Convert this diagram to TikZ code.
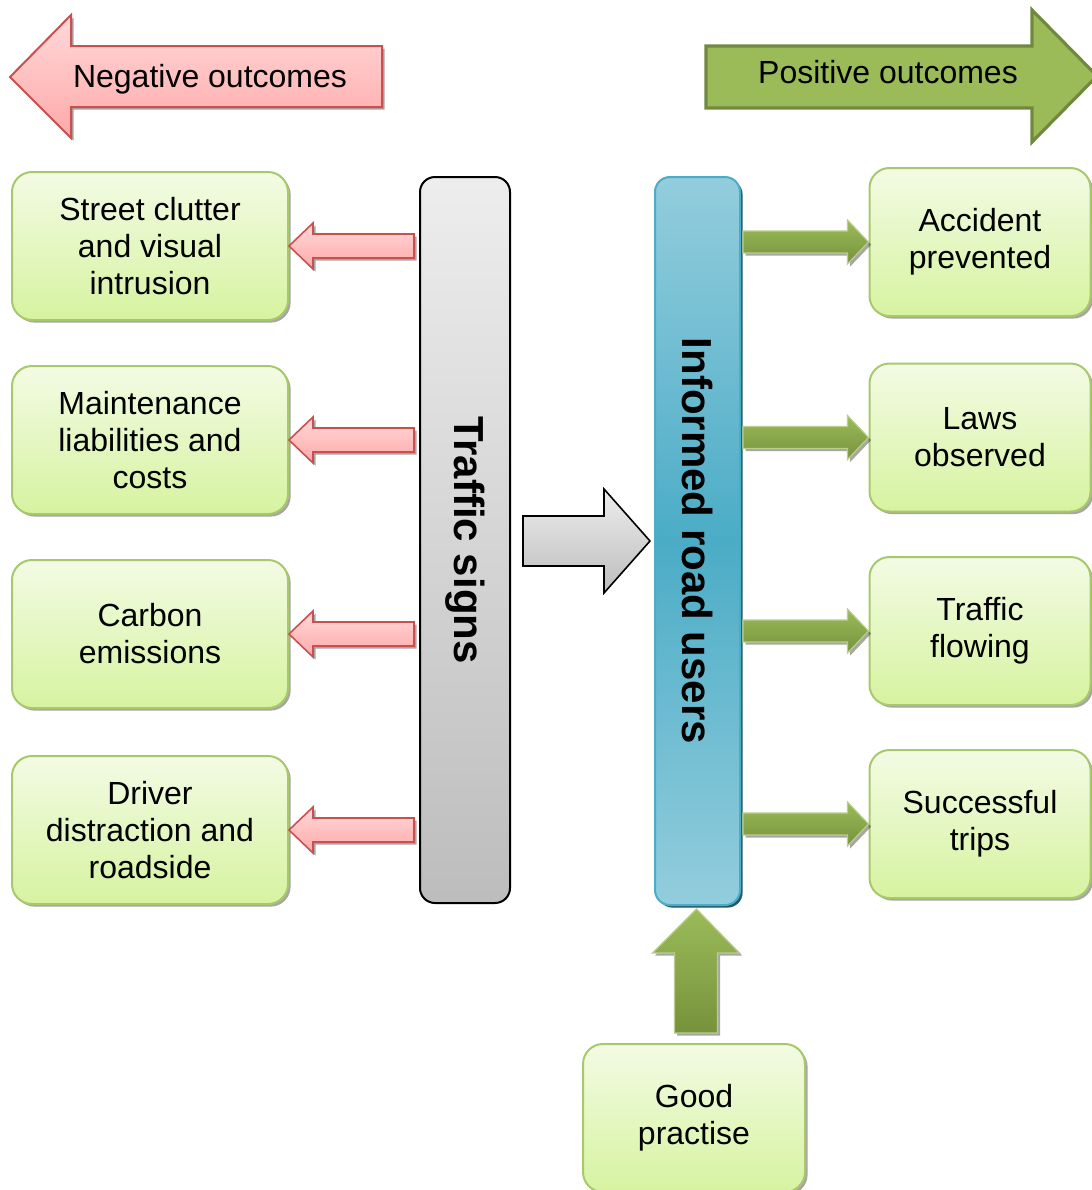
\documentclass[tikz,border=0pt]{standalone}
\usepackage{fontspec}
\setmainfont{Liberation Sans}
\usetikzlibrary{calc,shadows}

\definecolor{boxtop}{HTML}{F3FBE4}
\definecolor{boxbot}{HTML}{D6F3A0}
\definecolor{boxline}{HTML}{A8C96B}
\definecolor{negtop}{HTML}{FFD9D9}
\definecolor{negbot}{HTML}{FFA8A8}
\definecolor{negline}{HTML}{C9504F}
\definecolor{posfill}{HTML}{9BBB59}
\definecolor{posdark}{HTML}{76923C}
\definecolor{posline}{HTML}{71893F}
\definecolor{userslight}{HTML}{93CDDD}
\definecolor{usersmid}{HTML}{4BACC6}
\definecolor{usersdark}{HTML}{215968}

\tikzset{
  outcome/.style={draw=boxline, line width=1pt, rounded corners=10pt,
    top color=boxtop, bottom color=boxbot,
    minimum width=138pt, minimum height=74pt, align=center,
    font=\fontsize{16}{18.5}\selectfont,
    drop shadow={shadow xshift=1.3pt, shadow yshift=-1.3pt, fill=black, opacity=0.35}},
  outtext/.style={font=\fontsize{16}{18.5}\selectfont},
  signbar/.style={draw=black, line width=1pt, rounded corners=7.5pt,
    top color=black!7, bottom color=black!26,
    minimum width=45pt, minimum height=363pt},
  usersbar/.style={draw=usersmid, line width=1pt, rounded corners=7.5pt,
    top color=userslight, bottom color=userslight, middle color=usersmid,
    minimum width=42.5pt, minimum height=364pt,
    drop shadow={shadow xshift=1.3pt, shadow yshift=-1.3pt, fill=usersdark, opacity=1}},
  bartext/.style={rotate=-90, font=\fontsize{21}{24}\selectfont\bfseries},
  negarrow/.style={draw=negline, line width=0.8pt, top color=negtop, bottom color=negbot,
    drop shadow={shadow xshift=1.3pt, shadow yshift=-1.3pt, fill=black, opacity=0.35}},
  bigneg/.style={negarrow, line width=1pt},
  posarrow/.style={draw=posfill!70!white, line width=0.6pt, top color=posfill, bottom color=posdark,
    drop shadow={shadow xshift=1.3pt, shadow yshift=-1.3pt, fill=black, opacity=0.35}},
  bigpos/.style={draw=posline, line width=1.6pt, fill=posfill},
  grayarrow/.style={draw=black, line width=0.8pt, top color=black!7, bottom color=black!26}
}

\begin{document}
\begin{tikzpicture}[x=0.5pt, y=-0.5pt]
	\useasboundingbox (0,0) rectangle (1092,1190);
	
	% Headings
	\draw[bigneg] (10,77) -- (71,15) -- (71,46) -- (382,46) -- (382,107) -- (71,107) -- (71,138) -- cycle;
	\node[outtext] (negtitle) at (210,79) {Negative outcomes};
	\draw[bigpos] (706,46) -- (1032,46) -- (1032,10) -- (1097,76) -- (1032,142) -- (1032,108) -- (706,108) -- cycle;
	\node[outtext] (postitle) at (888,72) {Positive outcomes};
	
	% Negative outcome boxes
	\node[outcome] (n1) at (150,246) {Street clutter\\and visual\\intrusion};
	\node[outcome] (n2) at (150,440) {Maintenance\\liabilities and\\costs};
	\node[outcome] (n3) at (150,634) {Carbon\\emissions};
	\node[outcome] (n4) at (150,830) {Driver\\distraction and\\roadside};
	
	% Positive outcome boxes
	\node[outcome, minimum width=110.5pt] (p1) at (980,242) {Accident\\prevented};
	\node[outcome, minimum width=110.5pt] (p2) at (980,437.5) {Laws\\observed};
	\node[outcome, minimum width=110.5pt] (p3) at (980,631) {Traffic\\flowing};
	\node[outcome, minimum width=110.5pt] (p4) at (980,824) {Successful\\trips};
	\node[outcome, minimum width=111pt] (good) at (694,1118) {Good\\practise};
	
	% The two bars
	\node[signbar] (signs) at (465,540) {};
	\node[bartext] (signstext) at (signs) {Traffic signs};
	\node[usersbar] (users) at (697.5,541) {};
	\node[bartext] (userstext) at (users) {Informed road users};
	
	% Arrows to the negative outcomes
	\draw[negarrow] (n1.east) -- ++(24,-23) -- ++(0,11) -- ($(signs.west |- n1.east)+(-5,-12)$) -- ++(0,24) -- ($(n1.east)+(24,12)$) -- ++(0,11) -- cycle;
	\draw[negarrow] (n2.east) -- ++(24,-23) -- ++(0,11) -- ($(signs.west |- n2.east)+(-5,-12)$) -- ++(0,24) -- ($(n2.east)+(24,12)$) -- ++(0,11) -- cycle;
	\draw[negarrow] (n3.east) -- ++(24,-23) -- ++(0,11) -- ($(signs.west |- n3.east)+(-5,-12)$) -- ++(0,24) -- ($(n3.east)+(24,12)$) -- ++(0,11) -- cycle;
	\draw[negarrow] (n4.east) -- ++(24,-23) -- ++(0,11) -- ($(signs.west |- n4.east)+(-5,-12)$) -- ++(0,24) -- ($(n4.east)+(24,12)$) -- ++(0,11) -- cycle;
	
	% Signs inform the road users
	\draw[grayarrow] ($(signs.east |- users.west)+(12,-25)$) -- ($(users.west)+(-50,-25)$) -- ++(0,-27) -- ($(users.west)+(-4,0)$) -- ($(users.west)+(-50,52)$) -- ++(0,-27) -- ($(signs.east |- users.west)+(12,25)$) -- cycle;
	
	% Arrows to the positive outcomes
	\draw[posarrow] ($(users.east |- p1.west)+(2,-11)$) -- ($(p1.west)+(-21,-11)$) -- ++(0,-11) -- (p1.west) -- ++(-21,22) -- ++(0,-11) -- ($(users.east |- p1.west)+(2,11)$) -- cycle;
	\draw[posarrow] ($(users.east |- p2.west)+(2,-11)$) -- ($(p2.west)+(-21,-11)$) -- ++(0,-11) -- (p2.west) -- ++(-21,22) -- ++(0,-11) -- ($(users.east |- p2.west)+(2,11)$) -- cycle;
	\draw[posarrow] ($(users.east |- p3.west)+(2,-11)$) -- ($(p3.west)+(-21,-11)$) -- ++(0,-11) -- (p3.west) -- ++(-21,22) -- ++(0,-11) -- ($(users.east |- p3.west)+(2,11)$) -- cycle;
	\draw[posarrow] ($(users.east |- p4.west)+(2,-11)$) -- ($(p4.west)+(-21,-11)$) -- ++(0,-11) -- (p4.west) -- ++(-21,22) -- ++(0,-11) -- ($(users.east |- p4.west)+(2,11)$) -- cycle;
	
	% Good practise feeds the road users
	\draw[posarrow] ($(users.south)+(-1,3)$) -- ++(43,44) -- ++(-22,0) -- ($(users.south |- good.north)+(20,-10)$) -- ++(-43,0) -- ($(users.south)+(-23,47)$) -- ++(-22,0) -- cycle;
	
\end{tikzpicture}
\end{document}
